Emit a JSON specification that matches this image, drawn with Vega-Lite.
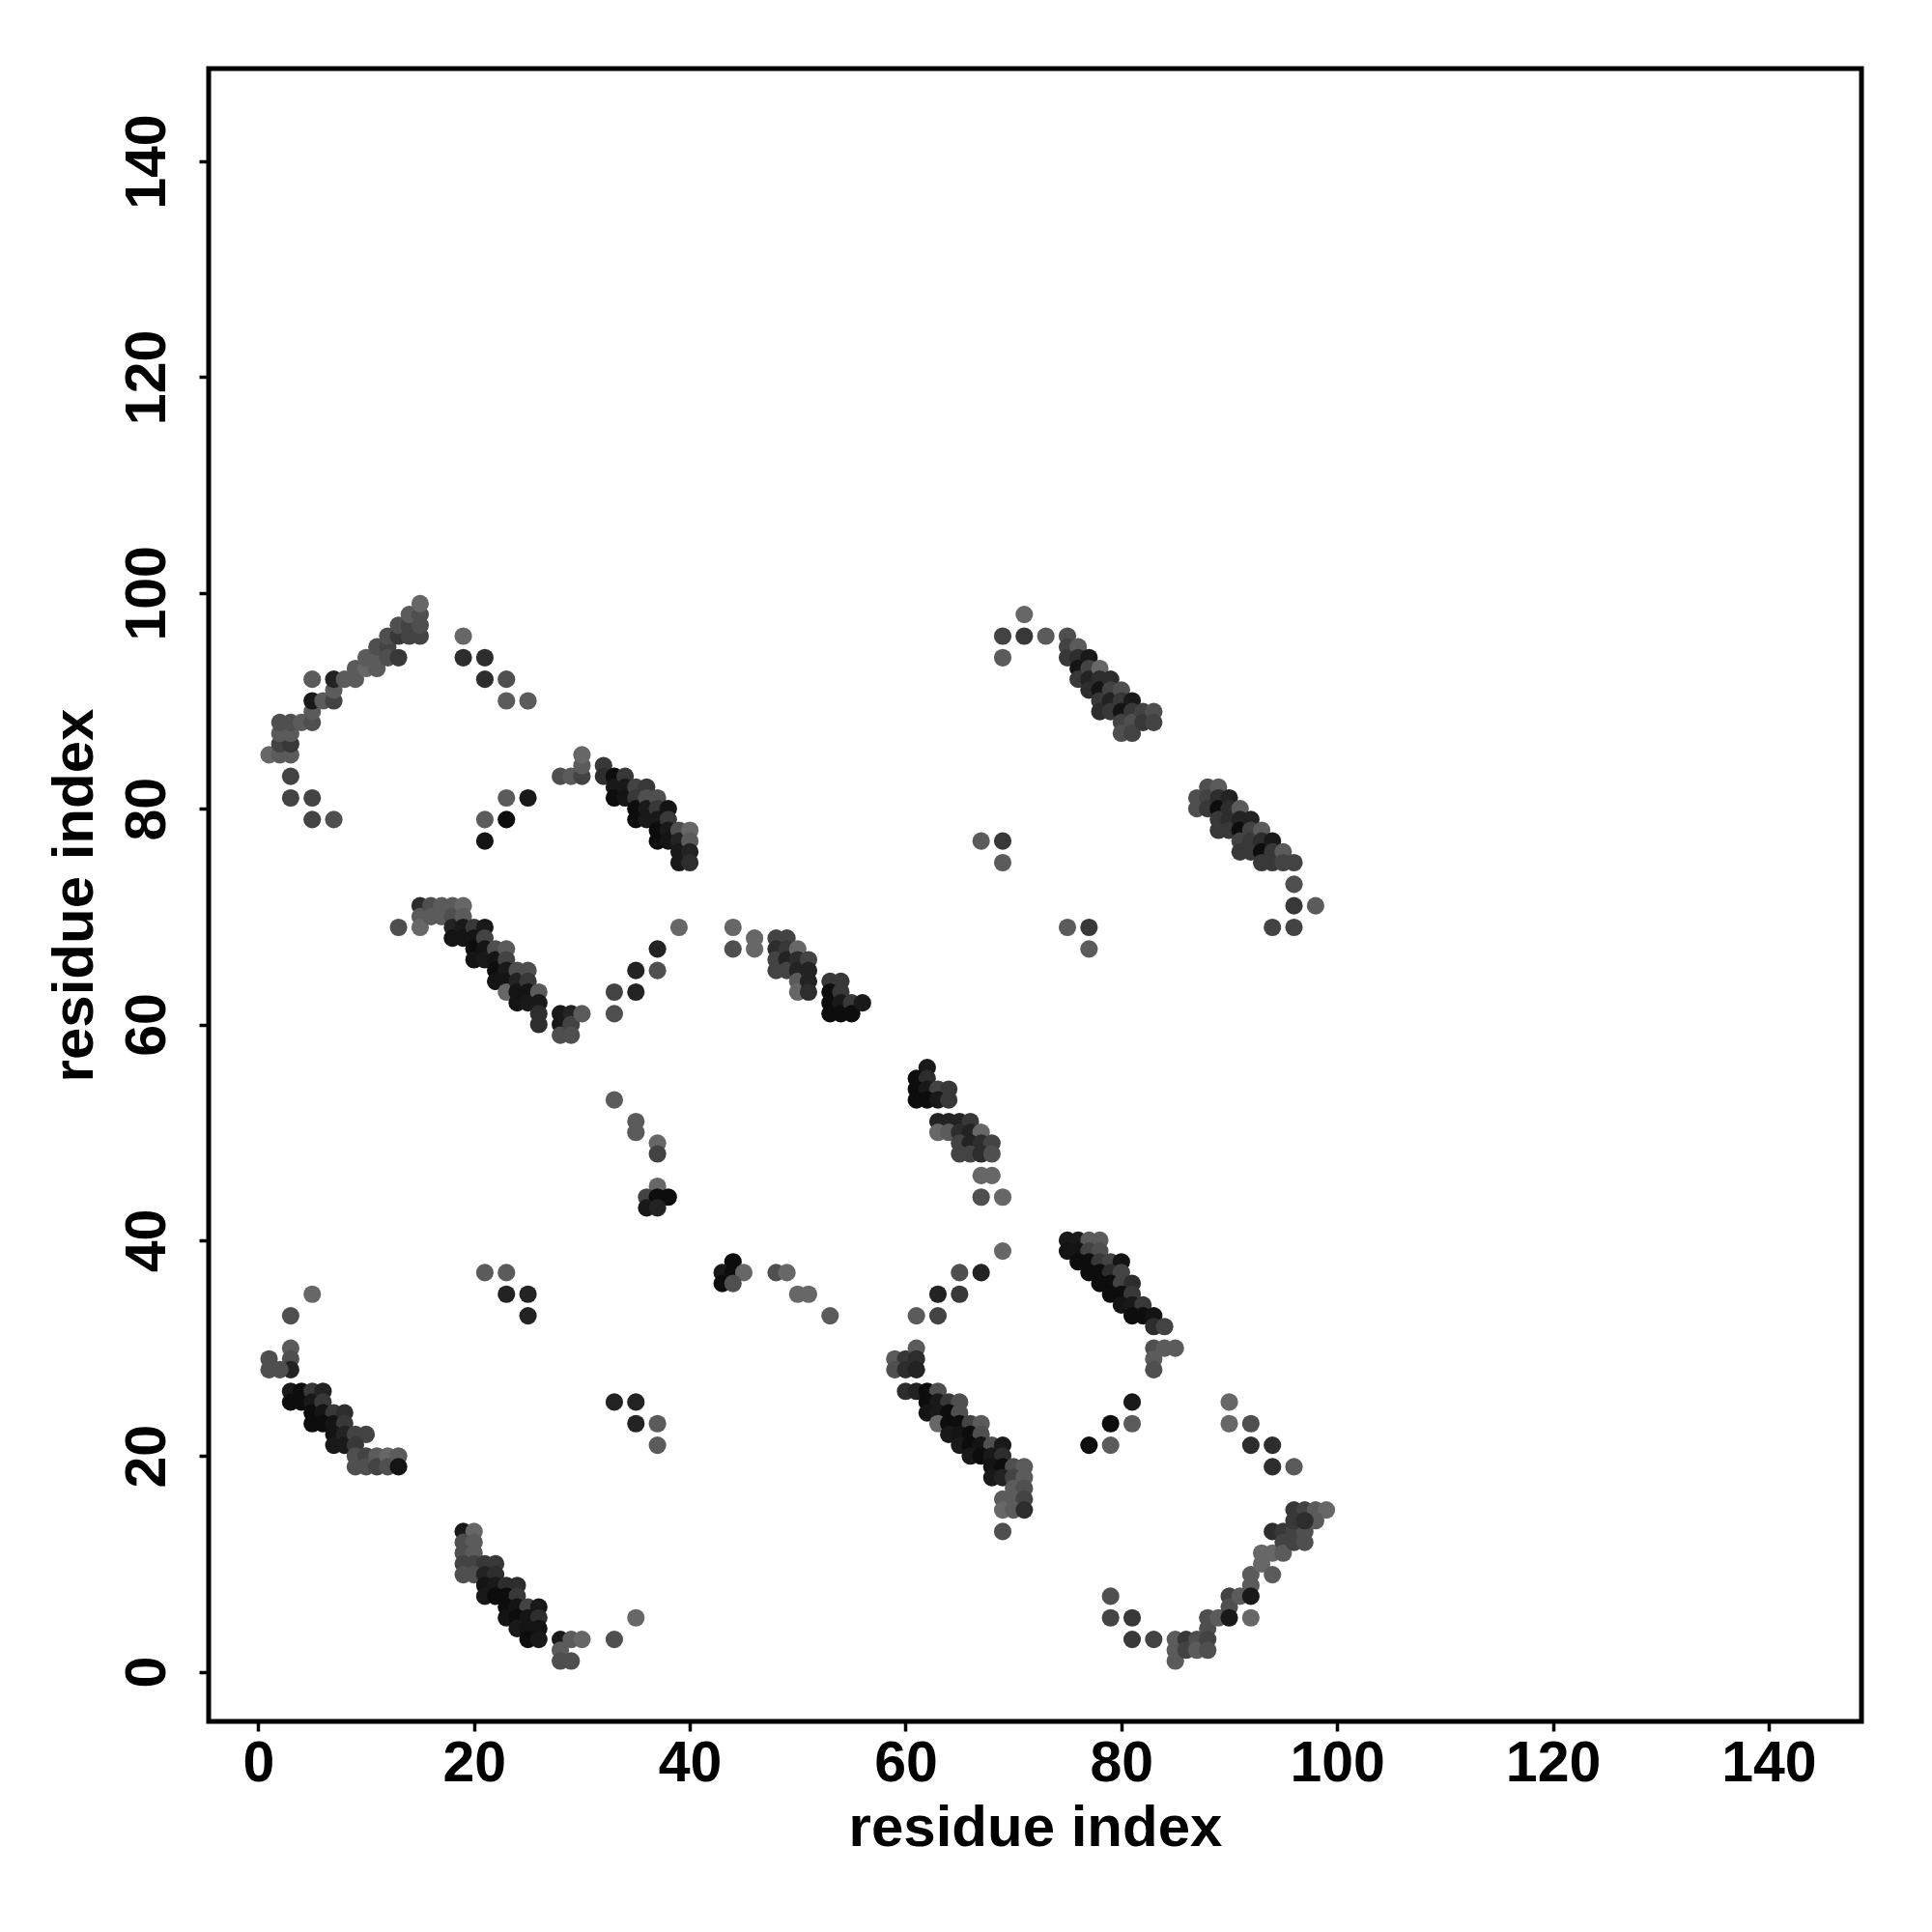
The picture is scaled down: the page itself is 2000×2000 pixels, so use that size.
{
  "$schema": "https://vega.github.io/schema/vega-lite/v6.json",
  "autosize": "none",
  "width": 1711,
  "height": 1711,
  "padding": {"left": 216, "top": 71, "right": 73, "bottom": 218},
  "background": "white",
  "config": {
    "view": {"stroke": "black", "strokeWidth": 5},
    "font": "Liberation Sans",
    "axis": {
      "grid": false,
      "domain": false,
      "tickColor": "black",
      "tickWidth": 3.5,
      "tickSize": 10,
      "labelFont": "Liberation Sans",
      "labelFontWeight": "bold",
      "labelFontSize": 59,
      "labelColor": "black",
      "titleFont": "Liberation Sans",
      "titleFontWeight": "bold",
      "titleFontSize": 60,
      "titleColor": "black"
    }
  },
  "data": {"values": [
    {"x":1,"y":85,"p":0.2},{"x":2,"y":85,"p":0.3},{"x":3,"y":85,"p":0.3},{"x":2,"y":86,"p":0.5},{"x":3,"y":86,"p":0.6},{"x":2,"y":87,"p":0.3},{"x":3,"y":87,"p":0.3},{"x":2,"y":88,"p":0.4},{"x":3,"y":88,"p":0.4},{"x":4,"y":88,"p":0.3},{"x":5,"y":88,"p":0.4},{"x":5,"y":89,"p":0.3},{"x":5,"y":90,"p":0.9},{"x":6,"y":90,"p":0.3},{"x":7,"y":90,"p":0.5},{"x":7,"y":91,"p":0.3},{"x":7,"y":92,"p":0.8},{"x":5,"y":92,"p":0.3},{"x":8,"y":92,"p":0.3},{"x":9,"y":92,"p":0.3},{"x":9,"y":93,"p":0.3},{"x":10,"y":93,"p":0.2},{"x":10,"y":94,"p":0.3},{"x":11,"y":94,"p":0.3},{"x":11,"y":93,"p":0.3},{"x":11,"y":95,"p":0.4},{"x":12,"y":95,"p":0.5},{"x":12,"y":94,"p":0.4},{"x":13,"y":94,"p":0.6},{"x":12,"y":96,"p":0.4},{"x":13,"y":96,"p":0.6},{"x":13,"y":97,"p":0.4},{"x":14,"y":96,"p":0.5},{"x":14,"y":97,"p":0.5},{"x":14,"y":98,"p":0.3},{"x":15,"y":96,"p":0.5},{"x":15,"y":97,"p":0.4},{"x":15,"y":98,"p":0.4},{"x":15,"y":99,"p":0.2},{"x":3,"y":83,"p":0.5},{"x":3,"y":81,"p":0.5},{"x":5,"y":81,"p":0.5},{"x":5,"y":79,"p":0.5},{"x":7,"y":79,"p":0.4},
    {"x":19,"y":96,"p":0.2},{"x":19,"y":94,"p":0.7},{"x":21,"y":94,"p":0.7},{"x":21,"y":92,"p":0.7},{"x":23,"y":92,"p":0.4},{"x":23,"y":90,"p":0.3},{"x":25,"y":90,"p":0.3},{"x":23,"y":81,"p":0.3},{"x":25,"y":81,"p":0.9},{"x":21,"y":79,"p":0.3},{"x":23,"y":79,"p":1.0},{"x":21,"y":77,"p":0.95},
    {"x":28,"y":83,"p":0.4},{"x":29,"y":83,"p":0.3},{"x":30,"y":83,"p":0.5},{"x":30,"y":84,"p":0.3},{"x":30,"y":85,"p":0.2},{"x":32,"y":84,"p":0.6},{"x":32,"y":83,"p":0.7},{"x":33,"y":83,"p":1.0},{"x":33,"y":82,"p":0.9},{"x":33,"y":81,"p":1.0},{"x":34,"y":83,"p":0.6},{"x":34,"y":82,"p":0.9},{"x":34,"y":81,"p":0.95},{"x":35,"y":82,"p":0.5},{"x":35,"y":81,"p":0.6},{"x":35,"y":80,"p":1.0},{"x":35,"y":79,"p":1.0},{"x":36,"y":82,"p":0.6},{"x":36,"y":81,"p":0.4},{"x":36,"y":80,"p":0.9},{"x":36,"y":79,"p":0.9},{"x":37,"y":81,"p":0.4},{"x":37,"y":80,"p":0.6},{"x":37,"y":79,"p":0.9},{"x":37,"y":78,"p":1.0},{"x":37,"y":77,"p":1.0},{"x":38,"y":80,"p":0.95},{"x":38,"y":79,"p":0.6},{"x":38,"y":78,"p":0.9},{"x":38,"y":77,"p":0.95},{"x":39,"y":78,"p":0.4},{"x":39,"y":77,"p":0.8},{"x":39,"y":76,"p":0.9},{"x":39,"y":75,"p":0.9},{"x":40,"y":78,"p":0.2},{"x":40,"y":77,"p":0.3},{"x":40,"y":76,"p":0.8},{"x":40,"y":75,"p":0.7},
    {"x":13,"y":69,"p":0.4},{"x":15,"y":71,"p":0.7},{"x":15,"y":70,"p":0.3},{"x":15,"y":69,"p":0.2},{"x":16,"y":71,"p":0.4},{"x":16,"y":70,"p":0.3},{"x":17,"y":71,"p":0.3},{"x":17,"y":70,"p":0.3},{"x":18,"y":71,"p":0.3},{"x":18,"y":70,"p":0.4},{"x":18,"y":69,"p":0.8},{"x":18,"y":68,"p":0.95},{"x":19,"y":71,"p":0.2},{"x":19,"y":70,"p":0.3},{"x":19,"y":69,"p":0.9},{"x":19,"y":68,"p":0.95},{"x":20,"y":69,"p":0.6},{"x":20,"y":68,"p":0.95},{"x":20,"y":67,"p":1.0},{"x":20,"y":66,"p":0.95},{"x":21,"y":69,"p":0.9},{"x":21,"y":68,"p":0.5},{"x":21,"y":67,"p":0.95},{"x":21,"y":66,"p":0.9},{"x":22,"y":67,"p":0.4},{"x":22,"y":66,"p":0.95},{"x":22,"y":65,"p":1.0},{"x":22,"y":64,"p":0.95},{"x":23,"y":67,"p":0.3},{"x":23,"y":66,"p":0.5},{"x":23,"y":65,"p":0.9},{"x":23,"y":64,"p":0.95},{"x":23,"y":63,"p":0.2},{"x":24,"y":65,"p":0.4},{"x":24,"y":64,"p":0.8},{"x":24,"y":63,"p":0.95},{"x":24,"y":62,"p":0.95},{"x":25,"y":65,"p":0.4},{"x":25,"y":64,"p":0.6},{"x":25,"y":63,"p":0.95},{"x":25,"y":62,"p":0.9},{"x":26,"y":63,"p":0.3},{"x":26,"y":62,"p":0.9},{"x":26,"y":61,"p":0.7},{"x":26,"y":60,"p":0.7},{"x":28,"y":61,"p":0.9},{"x":28,"y":60,"p":0.9},{"x":28,"y":59,"p":0.4},{"x":29,"y":61,"p":0.8},{"x":29,"y":60,"p":0.5},{"x":29,"y":59,"p":0.4},{"x":30,"y":61,"p":0.3},
    {"x":33,"y":63,"p":0.5},{"x":35,"y":63,"p":0.8},{"x":33,"y":61,"p":0.4},{"x":35,"y":65,"p":0.8},{"x":37,"y":65,"p":0.4},{"x":37,"y":67,"p":0.8},{"x":39,"y":69,"p":0.2},
    {"x":44,"y":69,"p":0.2},{"x":44,"y":67,"p":0.4},{"x":46,"y":68,"p":0.2},{"x":46,"y":67,"p":0.2},{"x":48,"y":68,"p":0.5},{"x":49,"y":68,"p":0.5},{"x":48,"y":67,"p":0.7},{"x":48,"y":66,"p":0.5},{"x":48,"y":65,"p":0.5},{"x":49,"y":67,"p":0.6},{"x":49,"y":66,"p":0.8},{"x":49,"y":65,"p":0.5},{"x":50,"y":67,"p":0.2},{"x":50,"y":66,"p":0.7},{"x":50,"y":65,"p":0.8},{"x":50,"y":64,"p":0.3},{"x":50,"y":63,"p":0.2},{"x":51,"y":66,"p":0.5},{"x":51,"y":65,"p":0.8},{"x":51,"y":64,"p":0.8},{"x":51,"y":63,"p":0.7},{"x":53,"y":64,"p":0.6},{"x":54,"y":64,"p":0.6},{"x":53,"y":63,"p":1.0},{"x":53,"y":62,"p":1.0},{"x":53,"y":61,"p":1.0},{"x":54,"y":63,"p":0.6},{"x":54,"y":62,"p":0.9},{"x":54,"y":61,"p":1.0},{"x":55,"y":62,"p":0.6},{"x":55,"y":61,"p":1.0},{"x":56,"y":62,"p":0.9},
    {"x":33,"y":53,"p":0.3},{"x":35,"y":51,"p":0.3},{"x":35,"y":50,"p":0.3},{"x":37,"y":49,"p":0.2},{"x":37,"y":48,"p":0.5},{"x":37,"y":45,"p":0.2},{"x":36,"y":44,"p":0.5},{"x":37,"y":44,"p":1.0},{"x":38,"y":44,"p":1.0},{"x":36,"y":43,"p":0.9},{"x":37,"y":43,"p":0.8},
    {"x":44,"y":38,"p":1.0},{"x":43,"y":37,"p":0.9},{"x":44,"y":37,"p":1.0},{"x":45,"y":37,"p":0.2},{"x":43,"y":36,"p":1.0},{"x":44,"y":36,"p":0.4},{"x":48,"y":37,"p":0.4},{"x":49,"y":37,"p":0.2},{"x":50,"y":35,"p":0.2},{"x":51,"y":35,"p":0.2},{"x":53,"y":33,"p":0.3},
    {"x":62,"y":56,"p":0.9},{"x":61,"y":55,"p":1.0},{"x":62,"y":55,"p":0.7},{"x":61,"y":54,"p":1.0},{"x":62,"y":54,"p":0.9},{"x":63,"y":54,"p":0.5},{"x":64,"y":54,"p":0.6},{"x":61,"y":53,"p":1.0},{"x":62,"y":53,"p":1.0},{"x":63,"y":53,"p":0.9},{"x":64,"y":53,"p":0.6},{"x":63,"y":51,"p":0.8},{"x":64,"y":51,"p":0.8},{"x":65,"y":51,"p":0.8},{"x":66,"y":51,"p":0.6},{"x":63,"y":50,"p":0.2},{"x":64,"y":50,"p":0.3},{"x":65,"y":50,"p":0.7},{"x":66,"y":50,"p":0.8},{"x":67,"y":50,"p":0.2},{"x":65,"y":49,"p":0.5},{"x":66,"y":49,"p":0.8},{"x":67,"y":49,"p":0.7},{"x":68,"y":49,"p":0.5},{"x":65,"y":48,"p":0.5},{"x":66,"y":48,"p":0.5},{"x":67,"y":48,"p":0.7},{"x":68,"y":48,"p":0.4},{"x":67,"y":46,"p":0.2},{"x":68,"y":46,"p":0.2},{"x":67,"y":44,"p":0.4},{"x":69,"y":44,"p":0.2},
    {"x":69,"y":39,"p":0.2},{"x":65,"y":37,"p":0.4},{"x":67,"y":37,"p":0.8},{"x":63,"y":35,"p":0.8},{"x":65,"y":35,"p":0.6},{"x":61,"y":33,"p":0.3},{"x":63,"y":33,"p":0.5},
    {"x":59,"y":29,"p":0.3},{"x":60,"y":29,"p":0.6},{"x":61,"y":30,"p":0.3},{"x":61,"y":29,"p":0.7},{"x":59,"y":28,"p":0.4},{"x":60,"y":28,"p":0.7},{"x":61,"y":28,"p":0.8},{"x":60,"y":26,"p":0.7},{"x":61,"y":26,"p":0.8},{"x":62,"y":26,"p":1.0},{"x":63,"y":26,"p":0.4},{"x":62,"y":25,"p":1.0},{"x":63,"y":25,"p":0.9},{"x":64,"y":25,"p":0.6},{"x":65,"y":25,"p":0.4},{"x":62,"y":24,"p":0.95},{"x":63,"y":24,"p":0.9},{"x":64,"y":24,"p":1.0},{"x":65,"y":24,"p":0.4},{"x":63,"y":23,"p":0.2},{"x":64,"y":23,"p":1.0},{"x":65,"y":23,"p":1.0},{"x":66,"y":23,"p":0.5},{"x":67,"y":23,"p":0.3},{"x":64,"y":22,"p":0.9},{"x":65,"y":22,"p":0.95},{"x":66,"y":22,"p":1.0},{"x":67,"y":22,"p":0.4},{"x":65,"y":21,"p":0.9},{"x":66,"y":21,"p":1.0},{"x":67,"y":21,"p":0.95},{"x":68,"y":21,"p":0.4},{"x":69,"y":21,"p":0.9},{"x":66,"y":20,"p":0.9},{"x":67,"y":20,"p":1.0},{"x":68,"y":20,"p":0.9},{"x":69,"y":20,"p":0.7},{"x":68,"y":19,"p":0.95},{"x":69,"y":19,"p":1.0},{"x":70,"y":19,"p":0.4},{"x":71,"y":19,"p":0.3},{"x":68,"y":18,"p":0.9},{"x":69,"y":18,"p":0.8},{"x":70,"y":18,"p":0.5},{"x":71,"y":18,"p":0.3},{"x":70,"y":17,"p":0.3},{"x":71,"y":17,"p":0.4},{"x":69,"y":16,"p":0.3},{"x":70,"y":16,"p":0.3},{"x":71,"y":16,"p":0.5},{"x":69,"y":15,"p":0.2},{"x":70,"y":15,"p":0.3},{"x":71,"y":15,"p":0.7},{"x":69,"y":13,"p":0.4},
    {"x":75,"y":40,"p":0.9},{"x":76,"y":40,"p":0.9},{"x":77,"y":40,"p":0.3},{"x":78,"y":40,"p":0.3},{"x":75,"y":39,"p":0.95},{"x":76,"y":39,"p":0.95},{"x":77,"y":39,"p":0.5},{"x":78,"y":39,"p":0.4},{"x":76,"y":38,"p":1.0},{"x":77,"y":38,"p":1.0},{"x":78,"y":38,"p":0.6},{"x":79,"y":38,"p":0.5},{"x":80,"y":38,"p":0.95},{"x":77,"y":37,"p":1.0},{"x":78,"y":37,"p":1.0},{"x":79,"y":37,"p":0.7},{"x":80,"y":37,"p":0.5},{"x":78,"y":36,"p":1.0},{"x":79,"y":36,"p":1.0},{"x":80,"y":36,"p":0.5},{"x":81,"y":36,"p":0.7},{"x":79,"y":35,"p":1.0},{"x":80,"y":35,"p":1.0},{"x":81,"y":35,"p":0.6},{"x":80,"y":34,"p":0.95},{"x":81,"y":34,"p":0.9},{"x":82,"y":34,"p":0.6},{"x":81,"y":33,"p":1.0},{"x":82,"y":33,"p":1.0},{"x":83,"y":33,"p":0.95},{"x":83,"y":32,"p":0.7},{"x":84,"y":32,"p":0.5},{"x":83,"y":30,"p":0.4},{"x":84,"y":30,"p":0.3},{"x":85,"y":30,"p":0.3},{"x":83,"y":29,"p":0.3},{"x":83,"y":28,"p":0.4},
    {"x":81,"y":25,"p":0.9},{"x":79,"y":23,"p":1.0},{"x":81,"y":23,"p":0.3},{"x":77,"y":21,"p":1.0},{"x":79,"y":21,"p":0.3},{"x":90,"y":25,"p":0.2},{"x":90,"y":23,"p":0.2},{"x":92,"y":23,"p":0.4},{"x":92,"y":21,"p":0.7},{"x":94,"y":21,"p":0.7},{"x":94,"y":19,"p":0.7},{"x":96,"y":19,"p":0.3},
    {"x":79,"y":7,"p":0.4},{"x":79,"y":5,"p":0.5},{"x":81,"y":5,"p":0.6},{"x":81,"y":3,"p":0.6},{"x":83,"y":3,"p":0.5},{"x":85,"y":3,"p":0.3},{"x":85,"y":2,"p":0.3},{"x":85,"y":1,"p":0.3},{"x":86,"y":3,"p":0.6},{"x":86,"y":2,"p":0.5},{"x":87,"y":3,"p":0.4},{"x":87,"y":2,"p":0.3},{"x":88,"y":5,"p":0.4},{"x":88,"y":4,"p":0.4},{"x":88,"y":3,"p":0.5},{"x":88,"y":2,"p":0.4},{"x":89,"y":5,"p":0.3},{"x":90,"y":7,"p":0.5},{"x":90,"y":6,"p":0.4},{"x":90,"y":5,"p":0.9},{"x":91,"y":7,"p":0.3},{"x":92,"y":9,"p":0.3},{"x":92,"y":8,"p":0.3},{"x":92,"y":7,"p":0.9},{"x":92,"y":5,"p":0.2},{"x":93,"y":11,"p":0.2},{"x":93,"y":10,"p":0.2},{"x":94,"y":11,"p":0.2},{"x":94,"y":9,"p":0.3},{"x":94,"y":13,"p":0.7},{"x":95,"y":13,"p":0.6},{"x":95,"y":12,"p":0.5},{"x":95,"y":11,"p":0.3},{"x":96,"y":13,"p":0.5},{"x":96,"y":12,"p":0.5},{"x":97,"y":13,"p":0.4},{"x":97,"y":12,"p":0.4},{"x":96,"y":15,"p":0.6},{"x":97,"y":15,"p":0.5},{"x":98,"y":15,"p":0.3},{"x":99,"y":15,"p":0.2},{"x":98,"y":14,"p":0.3},{"x":96,"y":14,"p":0.6},{"x":97,"y":14,"p":0.7},
    {"x":5,"y":35,"p":0.2},{"x":3,"y":33,"p":0.4},{"x":3,"y":30,"p":0.3},{"x":3,"y":29,"p":0.4},{"x":3,"y":28,"p":0.8},{"x":1,"y":29,"p":0.4},{"x":1,"y":28,"p":0.4},{"x":2,"y":28,"p":0.4},{"x":3,"y":26,"p":0.9},{"x":3,"y":25,"p":1.0},{"x":4,"y":26,"p":1.0},{"x":4,"y":25,"p":1.0},{"x":5,"y":26,"p":0.6},{"x":5,"y":25,"p":0.9},{"x":6,"y":26,"p":0.8},{"x":5,"y":24,"p":1.0},{"x":5,"y":23,"p":1.0},{"x":6,"y":25,"p":0.6},{"x":6,"y":24,"p":0.95},{"x":7,"y":24,"p":0.6},{"x":6,"y":23,"p":1.0},{"x":7,"y":23,"p":0.95},{"x":8,"y":24,"p":0.7},{"x":8,"y":23,"p":0.6},{"x":7,"y":22,"p":0.95},{"x":7,"y":21,"p":0.9},{"x":8,"y":22,"p":0.8},{"x":8,"y":21,"p":0.9},{"x":9,"y":22,"p":0.5},{"x":10,"y":22,"p":0.5},{"x":9,"y":21,"p":0.6},{"x":9,"y":20,"p":0.4},{"x":9,"y":19,"p":0.4},{"x":10,"y":20,"p":0.5},{"x":10,"y":19,"p":0.4},{"x":11,"y":20,"p":0.3},{"x":11,"y":19,"p":0.5},{"x":12,"y":20,"p":0.2},{"x":12,"y":19,"p":0.4},{"x":13,"y":20,"p":0.3},{"x":13,"y":19,"p":0.95},
    {"x":19,"y":13,"p":0.9},{"x":20,"y":13,"p":0.2},{"x":19,"y":12,"p":0.4},{"x":20,"y":12,"p":0.3},{"x":19,"y":11,"p":0.4},{"x":20,"y":11,"p":0.3},{"x":19,"y":10,"p":0.5},{"x":20,"y":10,"p":0.5},{"x":21,"y":10,"p":0.6},{"x":22,"y":10,"p":0.6},{"x":19,"y":9,"p":0.4},{"x":20,"y":9,"p":0.4},{"x":21,"y":9,"p":0.8},{"x":22,"y":9,"p":0.7},{"x":21,"y":8,"p":0.95},{"x":22,"y":8,"p":0.9},{"x":23,"y":8,"p":0.7},{"x":24,"y":8,"p":0.7},{"x":21,"y":7,"p":0.9},{"x":22,"y":7,"p":1.0},{"x":23,"y":7,"p":1.0},{"x":24,"y":7,"p":0.6},{"x":23,"y":6,"p":1.0},{"x":24,"y":6,"p":0.95},{"x":25,"y":6,"p":0.5},{"x":26,"y":6,"p":0.9},{"x":23,"y":5,"p":0.95},{"x":24,"y":5,"p":1.0},{"x":25,"y":5,"p":0.95},{"x":26,"y":5,"p":0.7},{"x":24,"y":4,"p":0.9},{"x":25,"y":4,"p":0.95},{"x":26,"y":4,"p":0.95},{"x":25,"y":3,"p":1.0},{"x":26,"y":3,"p":0.9},{"x":28,"y":3,"p":0.9},{"x":29,"y":3,"p":0.3},{"x":30,"y":3,"p":0.2},{"x":28,"y":2,"p":0.3},{"x":28,"y":1,"p":0.4},{"x":29,"y":1,"p":0.4},{"x":33,"y":3,"p":0.4},{"x":35,"y":5,"p":0.2},
    {"x":21,"y":37,"p":0.3},{"x":23,"y":37,"p":0.3},{"x":23,"y":35,"p":0.8},{"x":25,"y":35,"p":0.8},{"x":25,"y":33,"p":0.8},{"x":33,"y":25,"p":0.8},{"x":35,"y":25,"p":0.8},{"x":35,"y":23,"p":0.8},{"x":37,"y":23,"p":0.3},{"x":37,"y":21,"p":0.3},
    {"x":71,"y":98,"p":0.2},{"x":69,"y":96,"p":0.5},{"x":71,"y":96,"p":0.6},{"x":73,"y":96,"p":0.3},{"x":69,"y":94,"p":0.3},
    {"x":75,"y":96,"p":0.4},{"x":75,"y":95,"p":0.5},{"x":75,"y":94,"p":0.6},{"x":76,"y":95,"p":0.3},{"x":76,"y":94,"p":0.7},{"x":76,"y":93,"p":0.95},{"x":76,"y":92,"p":0.6},{"x":77,"y":94,"p":0.9},{"x":77,"y":93,"p":0.5},{"x":77,"y":92,"p":0.8},{"x":77,"y":91,"p":0.7},{"x":78,"y":93,"p":0.2},{"x":78,"y":92,"p":0.7},{"x":78,"y":91,"p":0.95},{"x":78,"y":90,"p":0.6},{"x":78,"y":89,"p":0.7},{"x":79,"y":92,"p":0.7},{"x":79,"y":91,"p":0.5},{"x":79,"y":90,"p":0.8},{"x":79,"y":89,"p":0.6},{"x":80,"y":91,"p":0.4},{"x":80,"y":90,"p":0.6},{"x":80,"y":89,"p":0.95},{"x":80,"y":88,"p":0.5},{"x":80,"y":87,"p":0.4},{"x":81,"y":90,"p":0.9},{"x":81,"y":89,"p":0.6},{"x":81,"y":88,"p":0.4},{"x":81,"y":87,"p":0.5},{"x":82,"y":89,"p":0.5},{"x":82,"y":88,"p":0.6},{"x":83,"y":89,"p":0.4},{"x":83,"y":88,"p":0.5},
    {"x":67,"y":77,"p":0.3},{"x":69,"y":77,"p":0.6},{"x":69,"y":75,"p":0.3},{"x":75,"y":69,"p":0.3},{"x":77,"y":69,"p":0.6},{"x":77,"y":67,"p":0.3},
    {"x":87,"y":81,"p":0.4},{"x":87,"y":80,"p":0.4},{"x":88,"y":82,"p":0.4},{"x":88,"y":81,"p":0.5},{"x":88,"y":80,"p":0.6},{"x":89,"y":82,"p":0.3},{"x":89,"y":81,"p":0.7},{"x":89,"y":80,"p":1.0},{"x":89,"y":79,"p":0.6},{"x":89,"y":78,"p":0.6},{"x":90,"y":81,"p":0.8},{"x":90,"y":80,"p":0.7},{"x":90,"y":79,"p":0.7},{"x":90,"y":78,"p":0.6},{"x":91,"y":80,"p":0.3},{"x":91,"y":79,"p":0.8},{"x":91,"y":78,"p":1.0},{"x":91,"y":77,"p":0.5},{"x":91,"y":76,"p":0.6},{"x":92,"y":79,"p":0.8},{"x":92,"y":78,"p":0.5},{"x":92,"y":77,"p":0.6},{"x":92,"y":76,"p":0.6},{"x":93,"y":78,"p":0.3},{"x":93,"y":77,"p":0.7},{"x":93,"y":76,"p":1.0},{"x":93,"y":75,"p":0.6},{"x":94,"y":77,"p":0.9},{"x":94,"y":76,"p":0.6},{"x":94,"y":75,"p":0.6},{"x":95,"y":76,"p":0.3},{"x":95,"y":75,"p":0.5},{"x":96,"y":75,"p":0.5},{"x":96,"y":73,"p":0.4},{"x":96,"y":71,"p":0.6},{"x":98,"y":71,"p":0.3},{"x":94,"y":69,"p":0.5},{"x":96,"y":69,"p":0.5}
  ]},
  "mark": {"type": "circle", "size": 330, "opacity": 1},
  "encoding": {
    "x": {
      "field": "x", "type": "quantitative",
      "scale": {"domain": [-4.6, 148.6], "nice": false, "zero": false},
      "axis": {"values": [0, 20, 40, 60, 80, 100, 120, 140], "title": "residue index", "labelPadding": 4, "titlePadding": 8}
    },
    "y": {
      "field": "y", "type": "quantitative",
      "scale": {"domain": [-4.6, 148.6], "nice": false, "zero": false},
      "axis": {"values": [0, 20, 40, 60, 80, 100, 120, 140], "title": "residue index", "labelAngle": -90, "labelAlign": "center", "labelBaseline": "bottom", "labelPadding": 24, "titlePadding": 15}
    },
    "color": {
      "field": "p", "type": "quantitative",
      "scale": {"domain": [0, 1], "range": ["#808080", "#0d0d0d"]},
      "legend": null
    }
  }
}
